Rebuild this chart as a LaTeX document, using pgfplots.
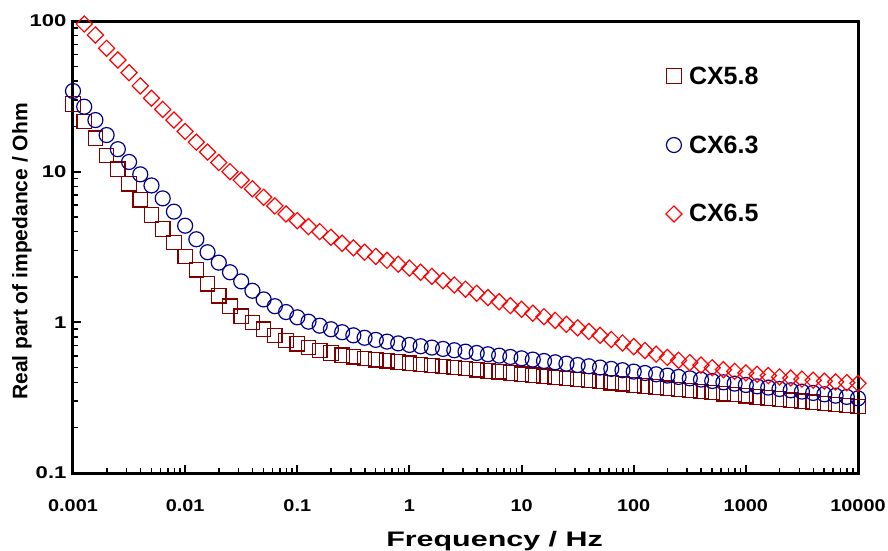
\documentclass[border=0pt]{standalone}
\usepackage{pgfplots}
\pgfplotsset{compat=1.18}
\usepackage{pgfplotstable}
\usepackage{graphicx}
\usepackage{fontspec}
\setmainfont{Liberation Sans}
\definecolor{cSq}{RGB}{128,0,0}
\definecolor{cCi}{RGB}{0,0,140}
\definecolor{cDi}{RGB}{255,0,0}
\newcommand\xs[1]{\scalebox{1.17}[1]{#1}}
\newcommand\ys[1]{\scalebox{1.3}[1]{#1}}

\pgfplotstableread{
f Z
0.001 28.1
0.0012589 21.5
0.0015849 16.7
0.0019953 12.8
0.0025119 10.4
0.0031623 8.3
0.0039811 6.5
0.0050119 5.16
0.0063096 4.17
0.0079433 3.38
0.01 2.73
0.012589 2.23
0.015849 1.80
0.019953 1.50
0.025119 1.28
0.031623 1.10
0.039811 1.00
0.050119 0.90
0.063096 0.82
0.079433 0.76
0.1 0.72
0.12589 0.68
0.15849 0.65
0.19953 0.625
0.25119 0.605
0.31623 0.59
0.39811 0.575
0.50119 0.565
0.63096 0.555
0.79433 0.545
1 0.535
1.2589 0.526
1.5849 0.518
1.9953 0.509
2.5119 0.501
3.1623 0.493
3.9811 0.484
5.0119 0.476
6.3096 0.469
7.9433 0.461
10 0.453
12.589 0.446
15.849 0.439
19.953 0.431
25.119 0.424
31.623 0.417
39.811 0.410
50.119 0.404
63.096 0.397
79.433 0.391
100 0.384
125.89 0.378
158.49 0.372
199.53 0.365
251.19 0.359
316.23 0.353
398.11 0.348
501.19 0.342
630.96 0.336
794.33 0.331
1000 0.325
1258.9 0.320
1584.9 0.315
1995.3 0.310
2511.9 0.304
3162.3 0.300
3981.1 0.295
5011.9 0.290
6309.6 0.285
7943.3 0.280
10000 0.276
}\tabSq

\pgfplotstableread{
f Z
0.001 34.3
0.0012589 27.0
0.0015849 22.0
0.0019953 17.5
0.0025119 14.1
0.0031623 11.6
0.0039811 9.6
0.0050119 8.1
0.0063096 6.65
0.0079433 5.43
0.01 4.38
0.012589 3.56
0.015849 2.92
0.019953 2.49
0.025119 2.15
0.031623 1.87
0.039811 1.62
0.050119 1.42
0.063096 1.28
0.079433 1.17
0.1 1.08
0.12589 1.01
0.15849 0.95
0.19953 0.90
0.25119 0.86
0.31623 0.82
0.39811 0.79
0.50119 0.765
0.63096 0.745
0.79433 0.725
1 0.708
1.2589 0.694
1.5849 0.680
1.9953 0.666
2.5119 0.653
3.1623 0.639
3.9811 0.626
5.0119 0.614
6.3096 0.601
7.9433 0.589
10 0.577
12.589 0.566
15.849 0.554
19.953 0.543
25.119 0.532
31.623 0.521
39.811 0.511
50.119 0.501
63.096 0.491
79.433 0.481
100 0.471
125.89 0.461
158.49 0.452
199.53 0.443
251.19 0.434
316.23 0.425
398.11 0.417
501.19 0.408
630.96 0.400
794.33 0.392
1000 0.384
1258.9 0.376
1584.9 0.369
1995.3 0.361
2511.9 0.354
3162.3 0.347
3981.1 0.340
5011.9 0.333
6309.6 0.326
7943.3 0.320
10000 0.313
}\tabCi

\pgfplotstableread{
f Z
0.0012589 95.5
0.0015849 80.7
0.0019953 65.9
0.0025119 55.1
0.0031623 45.4
0.0039811 37.1
0.0050119 30.7
0.0063096 25.9
0.0079433 22.0
0.01 18.5
0.012589 15.7
0.015849 13.5
0.019953 11.5
0.025119 10.0
0.031623 8.8
0.039811 7.7
0.050119 6.76
0.063096 5.92
0.079433 5.24
0.1 4.73
0.12589 4.32
0.15849 4.0
0.19953 3.67
0.25119 3.35
0.31623 3.12
0.39811 2.92
0.50119 2.74
0.63096 2.58
0.79433 2.43
1 2.29
1.2589 2.15
1.5849 2.02
1.9953 1.89
2.5119 1.77
3.1623 1.66
3.9811 1.56
5.0119 1.46
6.3096 1.37
7.9433 1.29
10 1.22
12.589 1.15
15.849 1.09
19.953 1.03
25.119 0.97
31.623 0.92
39.811 0.87
50.119 0.82
63.096 0.77
79.433 0.73
100 0.69
125.89 0.65
158.49 0.615
199.53 0.585
251.19 0.56
316.23 0.54
398.11 0.52
501.19 0.50
630.96 0.485
794.33 0.473
1000 0.462
1258.9 0.452
1584.9 0.443
1995.3 0.434
2511.9 0.427
3162.3 0.42
3981.1 0.413
5011.9 0.407
6309.6 0.402
7943.3 0.398
10000 0.394
}\tabDi

\begin{document}
\begin{tikzpicture}
\begin{axis}[
  at={(0pt,0pt)}, anchor=south west,
  scale only axis, width=785pt, height=452pt,
  xmode=log, ymode=log,
  xmin=0.001, xmax=10000, ymin=0.1, ymax=100,
  clip=false, axis on top,
  axis line style={line width=3pt},
  tick align=inside, xtick pos=bottom, ytick pos=left,
  major tick length=8pt, minor tick length=5pt,
  every major tick/.append style={line width=2pt, black},
  every minor tick/.append style={line width=1.5pt, black},
  xtick={0.001,0.01,0.1,1,10,100,1000,10000},
  xticklabels={\xs{0.001},\xs{0.01},\xs{0.1},\xs{1},\xs{10},\xs{100},\xs{1000},\xs{10000}},
  ytick={0.1,1,10,100},
  yticklabels={\ys{0.1},\ys{1},\ys{10},\ys{100}},
  tick label style={font=\fontsize{17}{20}\selectfont\bfseries},
  xticklabel style={yshift=-23pt},
  yticklabel style={xshift=-3pt},
  xlabel={\scalebox{1.45}[1]{Frequency / Hz}},
  ylabel={Real part of impedance / Ohm},
  label style={font=\fontsize{21}{24}\selectfont\bfseries},
  xlabel style={at={(axis description cs:0.537,0)}, anchor=center, yshift=-68pt},
  ylabel style={at={(axis description cs:-0.065,0.49)}, anchor=center},
  legend image code/.code={\draw[mark repeat=2,mark phase=2,#1] plot coordinates {(0pt,0pt) (8pt,0pt) (16pt,0pt)};},
  legend style={draw=none, fill=none, at={(axis description cs:0.755,0.904)}, anchor=north west,
    font=\fontsize{25}{28}\selectfont\bfseries, row sep=46pt, column sep=0pt,
    inner sep=0pt, nodes={inner sep=2pt}},
  legend cell align=left,
  every legend entry/.append style={xshift=0pt},
]
\addplot[only marks, mark=square, mark size=7.2pt, mark options={cSq, line width=1.2pt, fill=none}] table[x=f,y=Z] {\tabSq};
\addlegendentry{\hspace{5pt}CX5.8}
\addplot[only marks, mark=o, mark size=7.5pt, mark options={cCi, line width=1.2pt, fill=none}] table[x=f,y=Z] {\tabCi};
\addlegendentry{\hspace{5pt}CX6.3}
\addplot[only marks, mark=square, mark size=5.7pt, mark options={cDi, line width=1.2pt, fill=none, rotate=45}] table[x=f,y=Z] {\tabDi};
\addlegendentry{\hspace{5pt}CX6.5}
\end{axis}
\pgfresetboundingbox
\useasboundingbox (-73pt,-77pt) rectangle (815pt,473pt);
\end{tikzpicture}
\end{document}
